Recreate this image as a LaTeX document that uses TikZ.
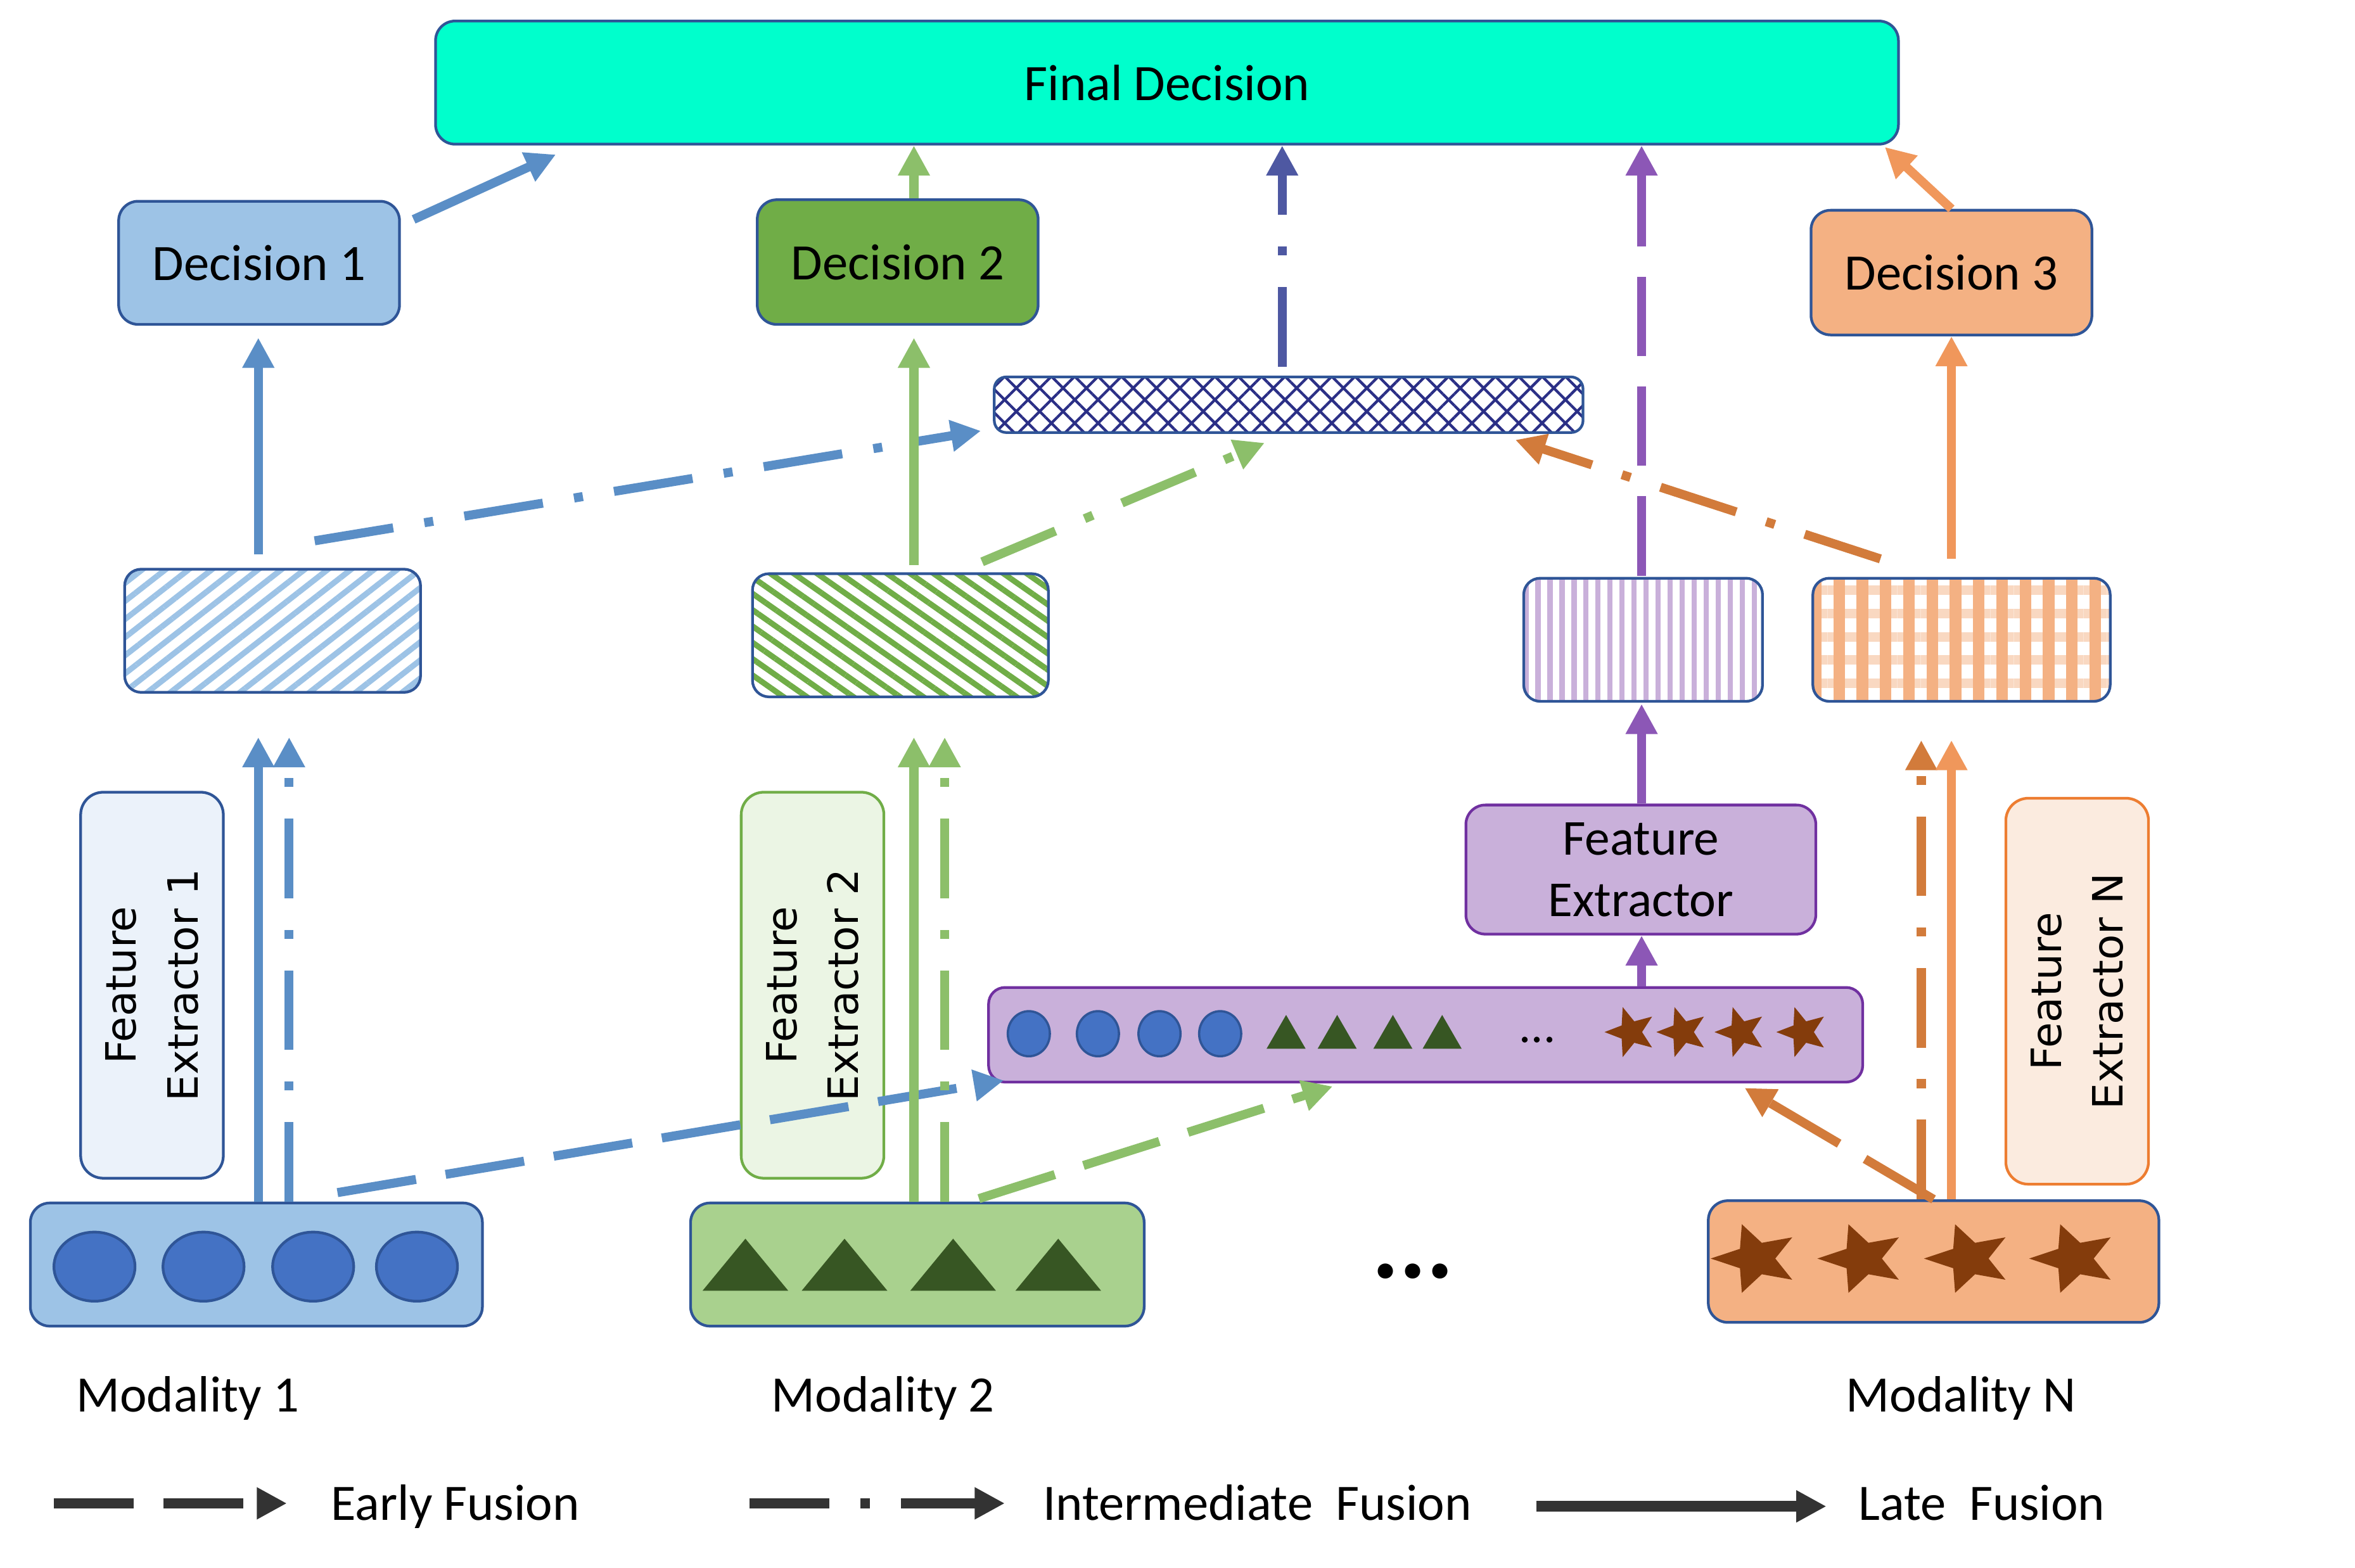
\documentclass[tikz,border=0pt]{standalone}
\usepackage{fontspec}
\setmainfont{Carlito}
\newfontfamily\verdfont{DejaVu Sans}
\usepackage{tikz}
\usetikzlibrary{arrows.meta}
\usetikzlibrary{patterns.meta}

\definecolor{cborder}{HTML}{2F5597}
\definecolor{cfinal}{HTML}{00FFCC}
\definecolor{cblue}{HTML}{9DC3E6}
\definecolor{cgreen}{HTML}{70AD47}
\definecolor{cgreenl}{HTML}{A9D18E}
\definecolor{corange}{HTML}{F4B183}
\definecolor{corangel}{HTML}{F9D8C1}
\definecolor{corangeb}{HTML}{ED7D31}
\definecolor{cpurple}{HTML}{C9B0DA}
\definecolor{cpurpled}{HTML}{7030A0}
\definecolor{cnavy}{HTML}{2B2F86}
\definecolor{ccircle}{HTML}{4472C4}
\definecolor{ctri}{HTML}{375623}
\definecolor{cstar}{HTML}{843C0C}
\definecolor{cfeblue}{HTML}{EBF2FA}
\definecolor{cfegreen}{HTML}{EBF5E4}
\definecolor{cfeorange}{HTML}{FBEBDF}
\definecolor{afblue}{HTML}{5A8EC6}
\definecolor{afgreen}{HTML}{8CBF6A}
\definecolor{afnavy}{HTML}{4E58A2}
\definecolor{afpurple}{HTML}{8C57B6}
\definecolor{aforange}{HTML}{F0975B}
\definecolor{aforanged}{HTML}{D27B3B}
\definecolor{clegend}{HTML}{333333}

\tikzset{
  box/.style={draw=cborder, line width=1.8pt, rounded corners=13pt, inner sep=0pt,
    font=\fontsize{34}{41}\selectfont},
  hatch/.style={draw=cborder, line width=1.8pt, rounded corners=11pt, inner sep=0pt,
    minimum width=197pt, minimum height=82pt},
  febox/.style={line width=1.8pt, rounded corners=15pt, rotate=90, inner sep=0pt,
    minimum width=257pt, minimum height=95pt, align=center,
    font=\verdfont\fontsize{27.8}{41}\selectfont},
  fuse/.style={line width=6pt, -{Triangle[length=20pt,width=20pt]}},
  late/.style={fuse},
  inter/.style={fuse, dash pattern=on 53pt off 21pt on 6pt off 21pt},
  early/.style={fuse, dash pattern=on 53pt off 20pt},
  legline/.style={line width=7pt, clegend, -{Triangle[length=20pt,width=20pt]}},
  modname/.style={anchor=base, font=\fontsize{34}{41}\selectfont},
  legname/.style={anchor=base west, font=\fontsize{34}{41}\selectfont}
}

\begin{document}
\begin{tikzpicture}[x=1pt, y=-1pt]

  \path[use as bounding box, fill=white] (0,0) rectangle (1568,1044);

  \node[box, fill=cfinal, minimum width=974pt, minimum height=82pt] (final) at (777,55) {Final Decision};
  \node[box, fill=cblue, minimum width=187pt, minimum height=82pt] (d1) at (172.5,175) {Decision 1};
  \node[box, fill=cgreen, minimum width=187pt, minimum height=83pt] (d2) at (597.7,174.5) {Decision 2};
  \node[box, fill=corange, minimum width=187pt, minimum height=83pt] (d3) at (1299.3,181.5) {Decision 3};

  \node[hatch, minimum width=392pt, minimum height=37pt, rounded corners=8pt,
    preaction={pattern={Lines[angle=45,distance=11pt,line width=1.8pt]}, pattern color=cnavy},
    pattern={Lines[angle=-45,distance=11pt,line width=1.8pt]}, pattern color=cnavy] (comb) at (858,269.5) {};

  \node[hatch, pattern={Lines[angle=38,distance=9.5pt,line width=3.8pt]}, pattern color=cblue] (h1) at (181.5,420) {};
  \node[hatch, pattern={Lines[angle=-35,distance=8.9pt,line width=3.8pt]}, pattern color=cgreen] (h2) at (599.5,423) {};
  \node[hatch, minimum width=159pt, pattern={Lines[angle=90,distance=8pt,line width=3.5pt]}, pattern color=cpurple] (hp) at (1094,426) {};
  \node[hatch, minimum width=198pt,
    preaction={pattern={Lines[angle=0,distance=15.5pt,line width=6.3pt]}, pattern color=corangel},
    pattern={Lines[angle=90,distance=15.5pt,line width=7.7pt]}, pattern color=corange] (ho) at (1306,426) {};

  \node[febox, draw=cborder, fill=cfeblue] (fe1) at (101.2,656) {Feature\\Extractor 1};
  \node[febox, draw=cgreen, fill=cfegreen] (fe2) at (541,656) {Feature\\Extractor 2};
  \node[febox, draw=corangeb, fill=cfeorange] (feN) at (1383,660) {Feature\\Extractor N};
  \node[box, draw=cpurpled, fill=cpurple, minimum width=233pt, minimum height=86pt, align=center,
    font=\fontsize{33.5}{41}\selectfont] (fep) at (1092.5,579) {Feature\\Extractor};

  \node[box, draw=cpurpled, fill=cpurple, rounded corners=11pt, minimum width=582pt, minimum height=63pt] (bar) at (949.2,689) {};
  \foreach \cx in {685,731,772,812.4}
    \filldraw[fill=ccircle, draw=cborder, line width=1.5pt] (\cx,688.3) ellipse (14 and 15);
  \foreach \tx in {856.3,890.3,927.4,960.2}
    \fill[ctri] (\tx-13,698.3) -- (\tx+13,698.3) -- (\tx,675.8) -- cycle;
  \node[anchor=base, font=\fontsize{32}{32}\selectfont] (bardots) at (1023.6,694) {...};
  \foreach \sx in {1085.8,1120.3,1159,1200.2}
    \fill[cstar] (\sx,687.2) +(180:17.5 and 17.5)
      \foreach \k in {1,...,4} { -- +(144+72*\k:7.5 and 7.5) -- +(180+72*\k:17.5 and 17.5) }
      -- +(144:7.5 and 7.5) -- cycle;

  \node[box, fill=cblue, minimum width=301pt, minimum height=82pt] (mod1) at (170.7,842) {};
  \foreach \cx in {62.9,135.5,208.5,277.6}
    \filldraw[fill=ccircle, draw=cborder, line width=1.8pt] (\cx,843.4) ellipse (27 and 23);
  \node[box, fill=cgreenl, minimum width=302pt, minimum height=82pt] (mod2) at (610.8,842) {};
  \foreach \tx in {496.3,562.3,634.6,704.6}
    \fill[ctri] (\tx-28.5,859.4) -- (\tx+28.5,859.4) -- (\tx,824.8) -- cycle;
  \node[box, fill=corange, minimum width=300pt, minimum height=81pt] (modN) at (1287.4,840) {};
  \foreach \sx in {1169,1240,1311,1381}
    \fill[cstar] (\sx,838) +(180:30 and 24)
      \foreach \k in {1,...,4} { -- +(144+72*\k:13 and 11) -- +(180+72*\k:30 and 24) }
      -- +(144:13 and 11) -- cycle;
  \node[anchor=base, font=\bfseries\fontsize{68}{68}\selectfont] (gap) at (940.8,851) {...};

  \node[modname] (name1) at (125,940) {Modality 1};
  \node[modname] (name2) at (588,940) {Modality 2};
  \node[modname] (nameN) at (1305.7,940) {Modality N};

  \coordinate (c1l) at (172,0);
  \coordinate (c1i) at (192.5,0);
  \coordinate (c2l) at (608.5,0);
  \coordinate (c2i) at (629,0);
  \coordinate (cnv) at (853.7,0);
  \coordinate (cpu) at (1093,0);
  \coordinate (cNi) at (1279.2,0);
  \coordinate (cNl) at (1299.3,0);

  \draw[late, afblue, shorten >=28pt] (mod1.north -| c1l) -- (h1.south -| c1l);
  \draw[inter, afblue, shorten >=28pt] (mod1.north -| c1i) -- (h1.south -| c1i);
  \draw[early, afblue] ([shift={(54,-6)}]mod1.north) -- ([shift={(11,-2)}]bar.south west);
  \draw[late, afblue, shorten <=8pt, shorten >=8pt] (h1.north -| c1l) -- (d1.south -| c1l);
  \draw[inter, afblue] ([shift={(28,-17)}]h1.north) -- ([shift={(-8,-2)}]comb.south west);
  \draw[late, afblue] ([shift={(8.5,13)}]d1.north east) -- ([shift={(81,6)}]final.south west);

  \draw[late, afgreen, shorten >=25pt] (mod2.north -| c2l) -- (h2.south -| c2l);
  \draw[inter, afgreen, shorten >=25pt] (mod2.north -| c2i) -- (h2.south -| c2i);
  \draw[early, afgreen] ([shift={(41,-2)}]mod2.north) -- ([shift={(230,2)}]bar.south west);
  \draw[late, afgreen, shorten <=4pt, shorten >=8pt] (h2.north -| c2l) -- (d2.south -| c2l);
  \draw[inter, afgreen] ([shift={(-46,-6)}]h2.north east) -- ([shift={(-16,6)}]comb.south);
  \draw[late, afgreen] (d2.north -| c2l) -- (final.south -| c2l);

  \draw[inter, afnavy, shorten <=6pt] (comb.north -| cnv) -- (final.south -| cnv);

  \draw[late, afpurple] (bar.north -| cpu) -- (fep.south -| cpu);
  \draw[late, afpurple] (fep.north -| cpu) -- (hp.south -| cpu);
  \draw[early, afpurple] (hp.north -| cpu) -- (final.south -| cpu);

  \draw[early, aforanged] (modN.north) -- ([shift={(-79.5,3)}]bar.south east);
  \draw[inter, aforanged, shorten >=22pt] (modN.north -| cNi) -- (ho.south -| cNi);
  \draw[late, aforange, shorten >=22pt] (modN.north -| cNl) -- (ho.south -| cNl);
  \draw[inter, aforanged] ([shift={(-54,-9)}]ho.north) -- ([shift={(-46,4)}]comb.south east);
  \draw[late, aforange, shorten <=9pt] (ho.north -| cNl) -- (d3.south -| cNl);
  \draw[late, aforange] (d3.north) -- ([shift={(-10,1)}]final.south east);

  \coordinate (e0) at (36,1001);
  \coordinate (e1) at (191,1001);
  \coordinate (i0) at (499,1001);
  \coordinate (i1) at (669,1001);
  \coordinate (l0) at (1023,1003);
  \coordinate (l1) at (1216,1003);
  \draw[legline, dash pattern=on 53pt off 20pt] (e0) -- (e1);
  \draw[legline, dash pattern=on 53pt off 21pt on 6pt off 21pt] (i0) -- (i1);
  \draw[legline] (l0) -- (l1);
  \node[legname] (early) at (217,1012) {Early Fusion};
  \node[legname] (inter) at (691,1012) {Intermediate\ \ Fusion};
  \node[legname] (late) at (1234,1012) {Late\ \ Fusion};
\end{tikzpicture}
\end{document}
